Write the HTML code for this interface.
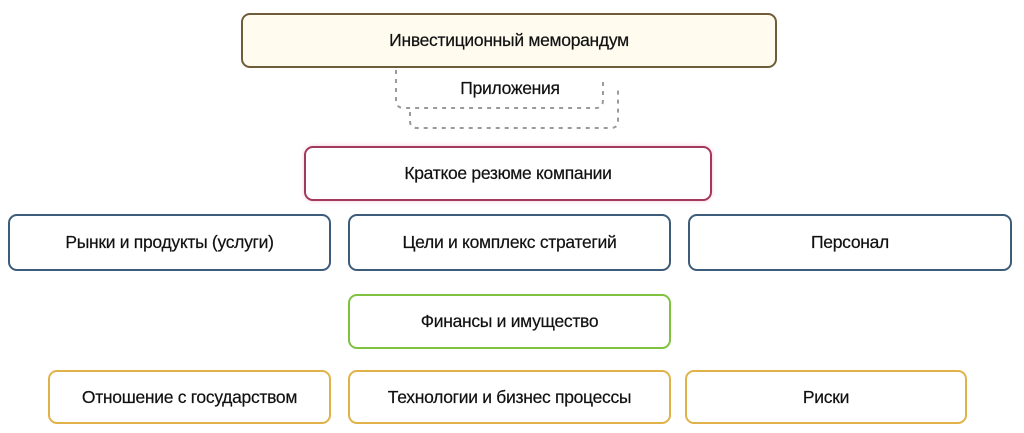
<!DOCTYPE html>
<html><head><meta charset="utf-8"><style>
html,body{margin:0;padding:0;background:#fff;}
body{width:1024px;height:433px;position:relative;overflow:hidden;font-family:"Liberation Sans","DejaVu Sans",sans-serif;}
.b{position:absolute;box-sizing:border-box;border-radius:9px;border:2.5px solid;display:flex;align-items:center;justify-content:center;font-size:17.5px;color:#111;background:#fff;letter-spacing:-0.3px;-webkit-text-stroke:0.2px #111;}
.top{left:241px;top:13px;width:536px;height:55px;border-color:#6e5c3a;background:#fffbef;}
.red{left:304px;top:146px;width:408px;height:55px;border-color:#a3395c;box-shadow:0 0 4px #f4c9d6;}
.blue{top:214px;height:57px;border-color:#3c5c7a;}
.green{left:348px;top:294px;width:323px;height:55px;border-color:#7fc240;}
.or{top:370px;height:54px;border-color:#e2b24a;}
</style></head><body>
<svg width="1024" height="433" style="position:absolute;left:0;top:0">
<g stroke="#9a9a9a" stroke-width="2" stroke-dasharray="4,5" fill="none">
<path d="M396 70 V100 Q396 108 404 108 H596 Q603 108 603 100 V78"/>
<path d="M410 112 V121 Q410 128 417 128 H611 Q618 128 618 121 V88"/>
</g>
</svg>
<div class="b top">Инвестиционный меморандум</div>
<div style="position:absolute;left:400px;top:78px;width:220px;text-align:center;font-size:17.5px;letter-spacing:-0.3px;color:#111;-webkit-text-stroke:0.2px #111;">Приложения</div>
<div class="b red">Краткое резюме компании</div>
<div class="b blue" style="left:8px;width:323px;">Рынки и продукты (услуги)</div>
<div class="b blue" style="left:348px;width:323px;">Цели и комплекс стратегий</div>
<div class="b blue" style="left:688px;width:324px;">Персонал</div>
<div class="b green">Финансы и имущество</div>
<div class="b or" style="left:48px;width:283px;">Отношение с государством</div>
<div class="b or" style="left:348px;width:323px;">Технологии и бизнес процессы</div>
<div class="b or" style="left:685px;width:282px;">Риски</div>
</body></html>
